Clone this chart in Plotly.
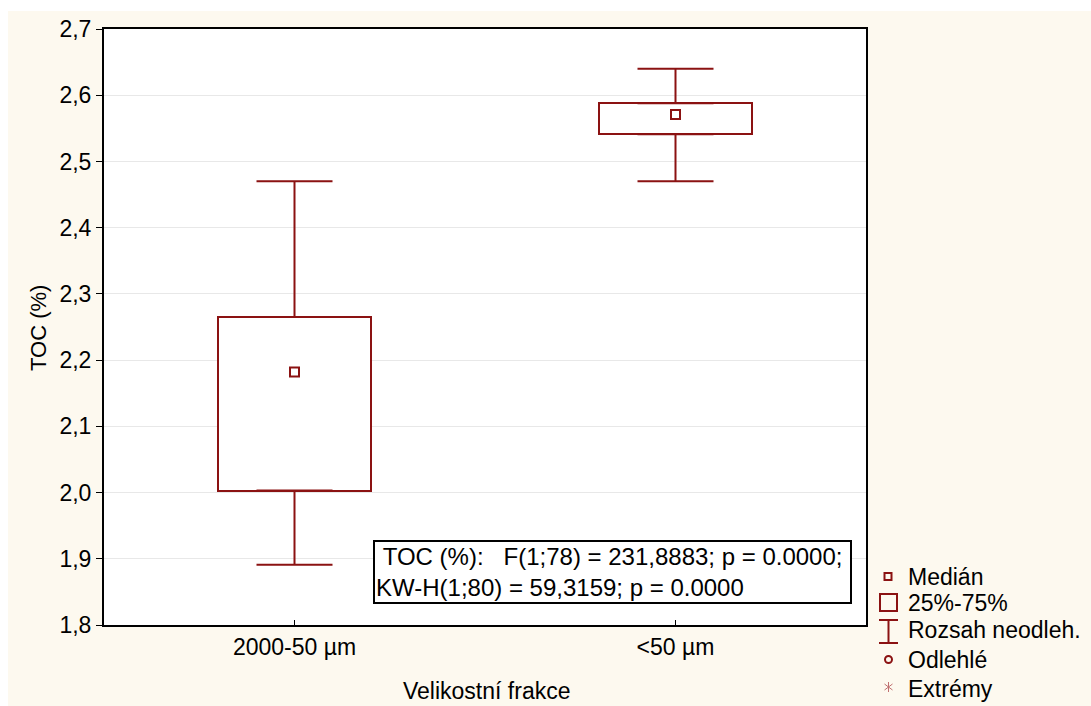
import plotly.graph_objects as go

# ---- data ----
categories = ["2000-50 µm", "<50 µm"]
q1 = [2.003, 2.541]
median = [2.182, 2.571]
q3 = [2.265, 2.588]
whisker_low = [1.891, 2.470]
whisker_high = [2.470, 2.640]
y_ticks = [1.8, 1.9, 2.0, 2.1, 2.2, 2.3, 2.4, 2.5, 2.6, 2.7]
y_tick_labels = ["1,8", "1,9", "2,0", "2,1", "2,2", "2,3", "2,4", "2,5", "2,6", "2,7"]
stats_text = ["TOC (%):   F(1;78) = 231,8883; p = 0.0000;",
              "KW-H(1;80) = 59,3159; p = 0.0000"]
legend_labels = ["Medián", "25%-75%", "Rozsah neodleh.", "Odlehlé", "Extrémy"]

# ---- style ----
W, H = 1091, 706
L, R, T, B = 104, 866, 29, 625
RED = "#8b1212"
CREAM = "#fdf9ef"
FONT = "Liberation Sans, Arial, sans-serif"
FS = 23


def px(x):
    return (x - L) / (R - L)


def py(y):
    return (B - y) / (B - T)


fig = go.Figure()

# boxes (25%-75%)
fig.add_trace(go.Bar(
    x=categories, y=[b - a for a, b in zip(q1, q3)], base=q1, width=0.4,
    marker=dict(color="white", line=dict(color=RED, width=2)),
    hoverinfo="skip", showlegend=False))

# upper whiskers
fig.add_trace(go.Scatter(
    x=categories, y=q3, mode="markers", marker=dict(size=1, opacity=0),
    error_y=dict(type="data", symmetric=False,
                 array=[h - a for h, a in zip(whisker_high, q3)],
                 arrayminus=[0, 0], color=RED, thickness=2, width=38),
    hoverinfo="skip", showlegend=False))
# lower whiskers
fig.add_trace(go.Scatter(
    x=categories, y=q1, mode="markers", marker=dict(size=1, opacity=0),
    error_y=dict(type="data", symmetric=False,
                 array=[0, 0],
                 arrayminus=[a - l for a, l in zip(q1, whisker_low)],
                 color=RED, thickness=2, width=38),
    hoverinfo="skip", showlegend=False))
# medians
fig.add_trace(go.Scatter(
    x=categories, y=median, mode="markers",
    marker=dict(symbol="square", size=9, color="white",
                line=dict(color=RED, width=2)),
    showlegend=False))

shapes = []
# white strips at top/left of the image
shapes.append(dict(type="rect", xref="paper", yref="paper", x0=px(0), x1=px(W),
                   y0=py(11), y1=py(0), fillcolor="white", line=dict(width=0), layer="below"))
shapes.append(dict(type="rect", xref="paper", yref="paper", x0=px(0), x1=px(8),
                   y0=py(H), y1=py(0), fillcolor="white", line=dict(width=0), layer="below"))


def rect(x0, y0, x1, y1, w=2, color=RED):
    shapes.append(dict(type="rect", xref="paper", yref="paper", x0=px(x0), x1=px(x1),
                       y0=py(y1), y1=py(y0), line=dict(color=color, width=w)))


def line(x0, y0, x1, y1, w=2, color=RED):
    shapes.append(dict(type="line", xref="paper", yref="paper", x0=px(x0), x1=px(x1),
                       y0=py(y0), y1=py(y1), line=dict(color=color, width=w)))


# legend symbols
rect(884.5, 573, 891.5, 580)
rect(880, 594, 897, 611)
line(888.5, 620, 888.5, 643)
line(879, 620, 898, 620)
line(879, 643, 898, 643)
shapes.append(dict(type="circle", xref="paper", yref="paper", x0=px(885), x1=px(892),
                   y0=py(663), y1=py(656), line=dict(color=RED, width=2)))
AST = "#c07070"
line(888.5, 682, 888.5, 692, w=1, color=AST)
line(884.5, 684, 892.5, 690, w=1, color=AST)
line(884.5, 690, 892.5, 684, w=1, color=AST)

annotations = []
leg_y = [577, 603, 630, 660, 689]
for lab, yy in zip(legend_labels, leg_y):
    annotations.append(dict(text=lab, xref="paper", yref="paper", x=px(906), y=py(yy),
                            xanchor="left", yanchor="middle", showarrow=False,
                            font=dict(family=FONT, size=FS, color="black")))

# stats box
annotations.append(dict(
    text="<br>".join(s.replace(" ", "\u00a0") for s in
                     ["\u00a0" + stats_text[0] + "\u00a0", stats_text[1]]),
    xref="paper", yref="paper", x=px(373), y=py(540), xanchor="left", yanchor="top",
    align="left", showarrow=False, bgcolor="white", bordercolor="black", borderwidth=2,
    borderpad=1, font=dict(family=FONT, size=24, color="black")))

# axis titles
annotations.append(dict(text="TOC (%)", xref="paper", yref="paper", x=px(38), y=py(328),
                        xanchor="center", yanchor="middle", textangle=-90, showarrow=False,
                        font=dict(family=FONT, size=FS - 1, color="black")))
annotations.append(dict(text="Velikostní frakce", xref="paper", yref="paper", x=px(486),
                        y=py(691), xanchor="center", yanchor="middle", showarrow=False,
                        font=dict(family=FONT, size=FS, color="black")))

fig.update_layout(
    width=W, height=H,
    margin=dict(l=L, r=W - R, t=T, b=H - B, autoexpand=False),
    paper_bgcolor=CREAM, plot_bgcolor="white",
    font=dict(family=FONT, size=FS, color="black"),
    shapes=shapes, annotations=annotations,
    bargap=0,
    xaxis=dict(type="category", range=[-0.5, 1.5], showgrid=False, zeroline=False,
               showline=True, linecolor="black", linewidth=2, mirror=True,
               ticks="inside", ticklen=5, tickcolor="black", tickwidth=1,
               tickfont=dict(family=FONT, size=FS)),
    yaxis=dict(range=[1.8, 2.7], tickvals=y_ticks, ticktext=y_tick_labels,
               showgrid=True, gridcolor="#e8e8e8", gridwidth=1, zeroline=False,
               showline=True, linecolor="black", linewidth=2, mirror=True,
               ticks="outside", ticklen=6, tickcolor="black", tickwidth=1,
               tickfont=dict(family=FONT, size=FS)),
)

fig.write_html("out.html")
